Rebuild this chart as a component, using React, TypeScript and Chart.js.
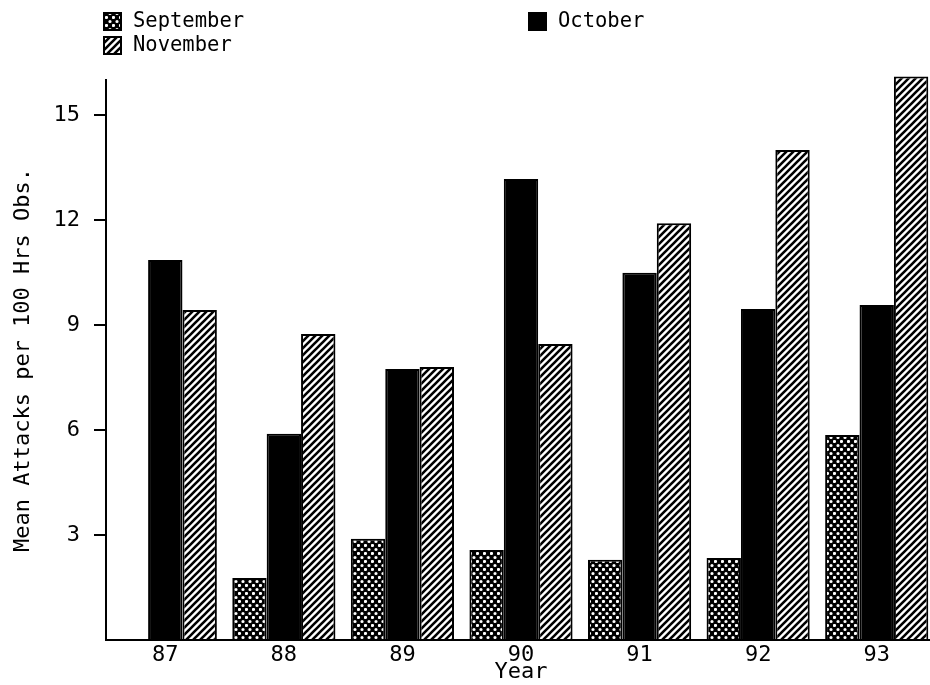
import React, { useEffect, useRef } from "react";
import { Chart, registerables } from "chart.js";

Chart.register(...registerables);

const years = ["87", "88", "89", "90", "91", "92", "93"];
const september: (number | null)[] = [null, 1.77, 2.89, 2.57, 2.29, 2.34, 5.86];
const october = [10.86, 5.89, 7.74, 13.17, 10.49, 9.46, 9.57];
const november = [9.43, 8.74, 7.8, 8.46, 11.91, 14.0, 16.1];
const seriesNames = ["September", "October", "November"];
const yTitle = "Mean Attacks per 100 Hrs Obs.";
const xTitle = "Year";

const FONT = "'DejaVu Sans Mono', monospace";

function dotPattern(ctx: CanvasRenderingContext2D): CanvasPattern | string {
  const c = document.createElement("canvas");
  c.width = 7;
  c.height = 8;
  const g = c.getContext("2d")!;
  g.fillStyle = "#000";
  g.fillRect(0, 0, 7, 8);
  g.fillStyle = "#fff";
  g.beginPath();
  g.arc(1.5, 1.5, 1.6, 0, Math.PI * 2);
  g.closePath();
  g.moveTo(6.6, 5.5);
  g.arc(5, 5.5, 1.6, 0, Math.PI * 2);
  g.fill();
  return ctx.createPattern(c, "repeat") || "#000";
}

function stripePattern(ctx: CanvasRenderingContext2D): CanvasPattern | string {
  const s = 7;
  const c = document.createElement("canvas");
  c.width = s;
  c.height = s;
  const g = c.getContext("2d")!;
  g.fillStyle = "#fff";
  g.fillRect(0, 0, s, s);
  g.strokeStyle = "#000";
  g.lineWidth = 2.6;
  g.beginPath();
  g.moveTo(0, s);
  g.lineTo(s, 0);
  g.moveTo(-s / 2, s / 2);
  g.lineTo(s / 2, -s / 2);
  g.moveTo(s / 2, s * 1.5);
  g.lineTo(s * 1.5, s / 2);
  g.stroke();
  return ctx.createPattern(c, "repeat") || "#fff";
}

export default function App() {
  const ref = useRef<HTMLCanvasElement | null>(null);

  useEffect(() => {
    const canvas = ref.current;
    if (!canvas) return;
    const ctx = canvas.getContext("2d")!;
    const sepFill = dotPattern(ctx);
    const novFill = stripePattern(ctx);
    const fills = [sepFill, "#000", novFill];

    const legendPlugin = {
      id: "customLegend",
      afterDraw(chart: any) {
        const c = chart.ctx as CanvasRenderingContext2D;
        const items = [
          { x: 104, y: 13, i: 0 },
          { x: 529, y: 13, i: 1 },
          { x: 104, y: 37, i: 2 },
        ];
        c.save();
        c.font = `20.5px ${FONT}`;
        c.textBaseline = "middle";
        c.textAlign = "left";
        for (const it of items) {
          c.fillStyle = fills[it.i] as any;
          c.fillRect(it.x, it.y, 17, 17);
          c.strokeStyle = "#000";
          c.lineWidth = 2;
          c.strokeRect(it.x, it.y, 17, 17);
          c.fillStyle = "#000";
          c.fillText(seriesNames[it.i], it.x + 29, it.y + 9);
        }
        c.restore();
      },
    };

    const chart = new Chart(canvas, {
      type: "bar",
      data: {
        labels: years,
        datasets: [
          { label: seriesNames[0], data: september, backgroundColor: sepFill as any },
          { label: seriesNames[1], data: october, backgroundColor: "#000" },
          { label: seriesNames[2], data: november, backgroundColor: novFill as any },
        ].map((d) => ({
          ...d,
          borderColor: "#000",
          borderWidth: 2,
          categoryPercentage: 0.87,
          barPercentage: 1.0,
          clip: false as any,
        })),
      },
      options: {
        animation: false,
        responsive: true,
        maintainAspectRatio: false,
        layout: { padding: { top: 80, left: 0, right: 0, bottom: 0 } },
        plugins: {
          legend: { display: false },
          tooltip: { enabled: false },
        },
        scales: {
          x: {
            type: "category",
            offset: true,
            grid: { display: false, drawTicks: false },
            border: { display: true, color: "#000", width: 2 },
            ticks: { color: "#000", font: { family: FONT, size: 22 }, padding: 2, maxRotation: 0 },
            title: {
              display: true,
              text: xTitle,
              color: "#000",
              font: { family: FONT, size: 22 },
              padding: { top: 0, bottom: 0 },
            },
            afterFit(scale: any) {
              scale.height = 45;
            },
          },
          y: {
            min: 0,
            max: 16,
            grid: {
              drawOnChartArea: false,
              drawTicks: true,
              tickLength: 12,
              lineWidth: 2,
              color: (c: any) => (c.tick && c.tick.value === 0 ? "rgba(0,0,0,0)" : "#000"),
            },
            border: { display: true, color: "#000", width: 2 },
            ticks: {
              stepSize: 3,
              includeBounds: false,
              color: "#000",
              padding: 14,
              font: { family: FONT, size: 22 },
              callback: (v: any) => (v === 0 ? "" : String(v)),
            },
            title: {
              display: true,
              text: yTitle,
              color: "#000",
              font: { family: FONT, size: 22 },
              padding: { top: 10, bottom: 0 },
            },
            afterFit(scale: any) {
              scale.width = 106;
            },
          },
        },
      },
      plugins: [legendPlugin],
    });
    return () => chart.destroy();
  }, []);

  return (
    <div
      style={{
        position: "fixed",
        left: 0,
        top: 0,
        width: 930,
        height: 685,
        overflow: "hidden",
        background: "#fff",
      }}
    >
      <div style={{ position: "relative", width: 936, height: 685 }}>
        <canvas ref={ref} />
      </div>
    </div>
  );
}
